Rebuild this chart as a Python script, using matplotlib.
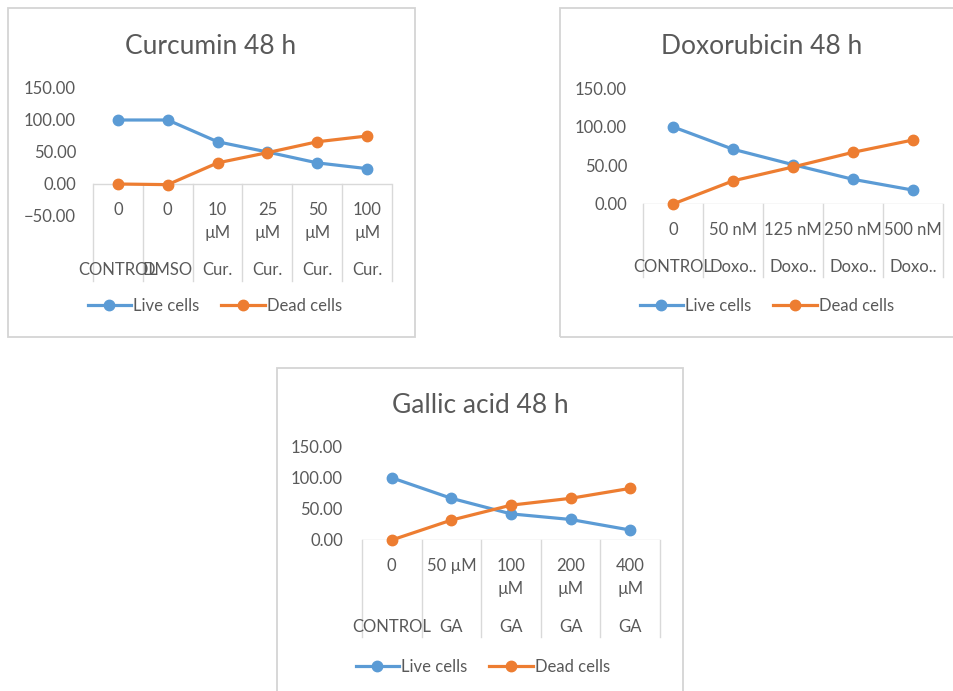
import matplotlib
matplotlib.use("Agg")
import matplotlib.pyplot as plt
from matplotlib.lines import Line2D
from matplotlib.patches import Rectangle
from matplotlib.ticker import StrMethodFormatter
import matplotlib.transforms as mtransforms

plt.rcParams['font.family'] = ['Lato', 'DejaVu Sans']

# ---- data ----
cur_doses = ["0", "0", "10\nµM", "25\nµM", "50\nµM", "100\nµM"]
cur_groups = ["CONTROL", "DMSO", "Cur.", "Cur.", "Cur.", "Cur."]
cur_live = [100, 100, 66, 50, 33, 24]
cur_dead = [0, -1, 33, 49, 66, 75]

dox_doses = ["0", "50 nM", "125 nM", "250 nM", "500 nM"]
dox_groups = ["CONTROL", "Doxo..", "Doxo..", "Doxo..", "Doxo.."]
dox_live = [100, 71, 51, 32, 18]
dox_dead = [0, 30, 48, 67, 83]

ga_doses = ["0", "50 µM", "100\nµM", "200\nµM", "400\nµM"]
ga_groups = ["CONTROL", "GA", "GA", "GA", "GA"]
ga_live = [100, 67, 42, 33, 16]
ga_dead = [0, 32, 56, 67, 83]

series_names = ["Live cells", "Dead cells"]
BLUE = "#5B9BD5"
ORANGE = "#ED7D31"
TEXT = "#595959"
GRID = "#D9D9D9"

W, H = 954, 691
fig = plt.figure(figsize=(W / 100, H / 100), dpi=100)
fig.patch.set_facecolor("white")


def fy(y):
    return 1 - y / H


def fx(x):
    return x / W


# chart frames
for (x0, y0, x1, y1) in [(8, 8, 415, 337), (560, 8, 960, 337), (277, 368, 683, 700)]:
    fig.patches.append(Rectangle((fx(x0), fy(y1)), fx(x1 - x0), (y1 - y0) / H,
                                 transform=fig.transFigure, fill=False,
                                 edgecolor="#D4D4D4", linewidth=1.3, zorder=0))


def draw_chart(title, doses, groups, live, dead, box, ylim, ypad,
               sep_bottom, row_base, group_base, legend_c, title_pos):
    x0, x1, ytop, ybot = box
    ax = fig.add_axes([fx(x0), fy(ybot), fx(x1 - x0), (ybot - ytop) / H])
    n = len(doses)
    xs = list(range(n))
    ax.set_xlim(-0.5, n - 0.5)
    ax.set_ylim(*ylim)
    ax.set_yticks(range(ylim[0], ylim[1] + 1, 50))
    ax.yaxis.set_major_formatter(StrMethodFormatter("{x:.2f}"))
    ax.tick_params(axis="y", length=0, pad=ypad, labelsize=12, labelcolor=TEXT)
    ax.set_xticks([])
    for s in ax.spines.values():
        s.set_visible(False)
    ax.patch.set_alpha(0)

    # horizontal category axis at zero and category separators
    ax.axhline(0, color=GRID, lw=1.0, zorder=1)
    tr = mtransforms.blended_transform_factory(ax.transData, fig.transFigure)
    zero_px = ybot - (ybot - ytop) * (0 - ylim[0]) / (ylim[1] - ylim[0])
    for k in range(n + 1):
        ax.add_line(Line2D([k - 0.5, k - 0.5], [fy(zero_px), fy(sep_bottom)],
                           transform=tr, color=GRID, lw=1.0, clip_on=False, zorder=1))

    # category labels (two levels)
    for i, lab in enumerate(doses):
        for j, line in enumerate(lab.split("\n")):
            ax.text(i, fy(row_base[j]), line, transform=tr, ha="center",
                    va="baseline", fontsize=12, color=TEXT)
    for i, lab in enumerate(groups):
        ax.text(i, fy(group_base), lab, transform=tr, ha="center",
                va="baseline", fontsize=12, color=TEXT)

    h_live, = ax.plot(xs, live, color=BLUE, lw=2.3, marker="o", ms=7.5, zorder=3,
                      label=series_names[0], clip_on=False)
    h_dead, = ax.plot(xs, dead, color=ORANGE, lw=2.3, marker="o", ms=7.5, zorder=4,
                      label=series_names[1], clip_on=False)

    fig.text(fx(title_pos[0]), fy(title_pos[1]), title, ha="center",
             va="baseline", fontsize=19, color=TEXT)

    fig.legend(handles=[h_live, h_dead], labels=series_names, loc="center",
               bbox_to_anchor=(fx(legend_c[0]), fy(legend_c[1])),
               ncol=2, frameon=False, fontsize=12, labelcolor=TEXT,
               handlelength=2.6, handletextpad=0.15, columnspacing=1.3,
               borderpad=0, borderaxespad=0)
    return ax


draw_chart("Curcumin 48 h", cur_doses, cur_groups, cur_live, cur_dead,
           box=(93, 392, 88, 216), ylim=(-50, 150), ypad=12.2,
           sep_bottom=281, row_base=[215, 238], group_base=275,
           legend_c=(215, 306), title_pos=(211, 54))

draw_chart("Doxorubicin 48 h", dox_doses, dox_groups, dox_live, dox_dead,
           box=(643, 943, 88.3, 204), ylim=(0, 150), ypad=11.5,
           sep_bottom=277, row_base=[235], group_base=272,
           legend_c=(767, 306), title_pos=(762, 54))

draw_chart("Gallic acid 48 h", ga_doses, ga_groups, ga_live, ga_dead,
           box=(362, 660, 446.7, 540), ylim=(0, 150), ypad=13.7,
           sep_bottom=637, row_base=[570.7, 594], group_base=631.7,
           legend_c=(483, 667), title_pos=(480, 413))

fig.savefig("out.png", dpi=100, facecolor="white")
